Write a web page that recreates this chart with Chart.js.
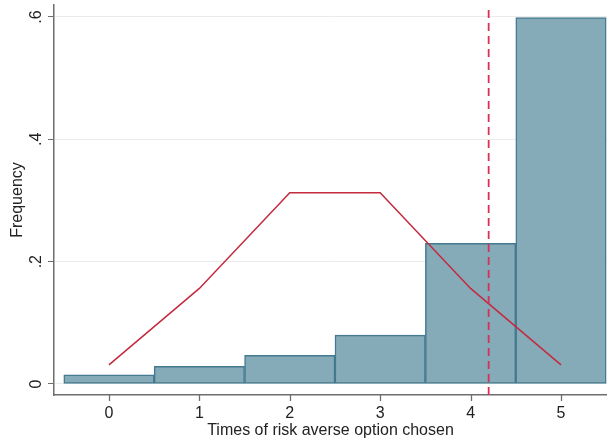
<!DOCTYPE html>
<html>
<head>
<meta charset="utf-8">
<script src="https://cdn.jsdelivr.net/npm/chart.js@4/dist/chart.umd.min.js"></script>
<style>
  html, body { margin: 0; padding: 0; background: #ffffff; }
  #wrap { width: 607px; height: 438px; position: relative; }
</style>
</head>
<body>
<div id="wrap"><canvas id="c" width="607" height="438"></canvas></div>
<script>
// Data
const categories = [0, 1, 2, 3, 4, 5];
const observedFreq = [0.015, 0.029, 0.047, 0.080, 0.230, 0.599];
const expectedFreq = [0.03125, 0.15625, 0.3125, 0.3125, 0.15625, 0.03125];
const meanLine = 4.2;
const xTicks = [0, 1, 2, 3, 4, 5];
const yTicks = [0, 0.2, 0.4, 0.6];
const yTickLabels = ["0", ".2", ".4", ".6"];

const FONT = "'Liberation Sans', Arial, sans-serif";
const AXIS = '#6e6e6e';

const axisDecor = {
  id: 'axisDecor',
  afterDraw(chart) {
    const ctx = chart.ctx;
    const y = chart.scales.y;
    const x = chart.scales.x;
    ctx.save();
    // x tick marks
    ctx.strokeStyle = AXIS;
    ctx.lineWidth = 1.3;
    xTicks.forEach((v) => {
      const px = Math.round(x.getPixelForValue(v)) + 0.5;
      ctx.beginPath();
      ctx.moveTo(px, x.top);
      ctx.lineTo(px, x.top + 6);
      ctx.stroke();
    });
    // rotated y labels
    ctx.fillStyle = '#222';
    ctx.font = '16px ' + FONT;
    ctx.textAlign = 'center';
    ctx.textBaseline = 'middle';
    yTicks.forEach((v, i) => {
      const py = y.getPixelForValue(v);
      ctx.save();
      ctx.translate(37, py);
      ctx.rotate(-Math.PI / 2);
      ctx.fillText(yTickLabels[i], 0, 0);
      ctx.restore();
    });
    ctx.restore();
  }
};

new Chart(document.getElementById('c'), {
  data: {
    datasets: [
      {
        type: 'bar',
        label: 'Observed',
        data: categories.map((c, i) => ({ x: c, y: observedFreq[i] })),
        backgroundColor: 'rgb(133,170,184)',
        borderColor: 'rgb(68,122,143)',
        borderWidth: 1.5,
        borderSkipped: false,
        barPercentage: 1,
        categoryPercentage: 1,
        grouped: false,
        order: 3
      },
      {
        type: 'line',
        label: 'Expected',
        data: categories.map((c, i) => ({ x: c, y: expectedFreq[i] })),
        borderColor: 'rgb(196,42,62)',
        borderWidth: 1.5,
        pointRadius: 0,
        fill: false,
        tension: 0,
        order: 2
      },
      {
        type: 'line',
        label: 'Mean',
        data: [{ x: meanLine, y: -0.018 }, { x: meanLine, y: 0.6196 }],
        borderColor: 'rgb(212,50,88)',
        borderWidth: 1.8,
        borderDash: [8, 5],
        pointRadius: 0,
        fill: false,
        order: 1
      }
    ]
  },
  options: {
    responsive: false,
    animation: false,
    events: [],
    layout: { padding: { top: 5, right: 0, left: 0, bottom: 0 } },
    plugins: { legend: { display: false }, tooltip: { enabled: false } },
    scales: {
      x: {
        type: 'linear',
        min: -0.608,
        max: 5.509,
        offset: false,
        afterBuildTicks: (s) => { s.ticks = xTicks.map(v => ({ value: v })); },
        afterFit: (s) => { s.height = 43; },
        grid: { offset: false, drawOnChartArea: false, drawTicks: false, tickLength: 6 },
        border: { display: true, color: AXIS, width: 1.5 },
        ticks: { color: '#222', font: { family: FONT, size: 16 }, padding: 9, maxRotation: 0, minRotation: 0 },
        title: { display: true, text: 'Times of risk averse option chosen', color: '#222', font: { family: FONT, size: 16 }, padding: { top: 0, bottom: -2 } }
      },
      y: {
        type: 'linear',
        min: -0.018,
        max: 0.6196,
        afterBuildTicks: (s) => { s.ticks = yTicks.map(v => ({ value: v })); },
        afterFit: (s) => { s.width = 54; },
        grid: { display: true, drawOnChartArea: true, color: '#ebebeb', lineWidth: 1, drawTicks: true, tickLength: 6, tickColor: AXIS },
        border: { display: true, color: AXIS, width: 1.5 },
        ticks: { display: false },
        title: { display: true, text: 'Frequency', color: '#222', font: { family: FONT, size: 16 }, padding: { top: 8, bottom: 0 } }
      }
    }
  },
  plugins: [axisDecor]
});
</script>
</body>
</html>
